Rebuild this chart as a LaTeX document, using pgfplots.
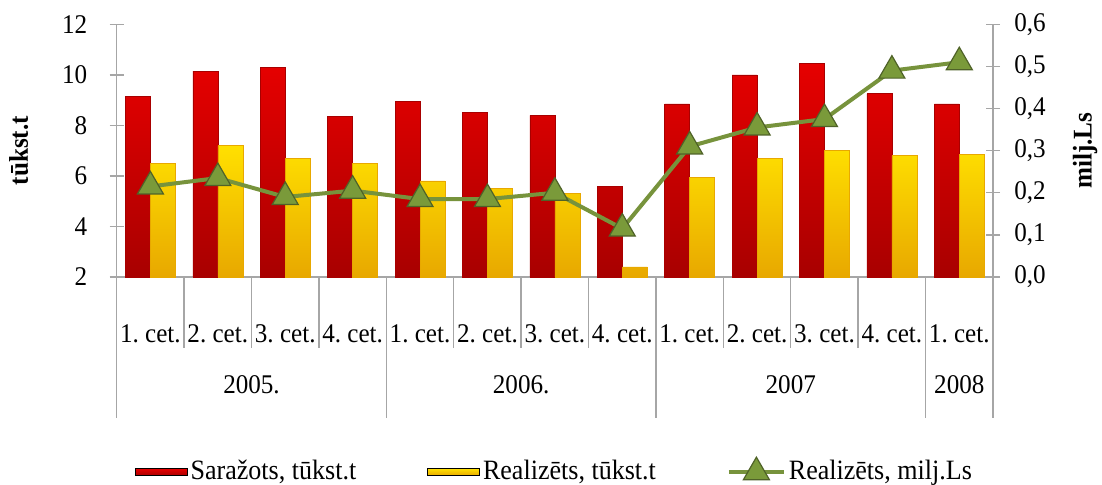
\documentclass[border=0pt]{standalone}
\usepackage{fontspec}
\setmainfont{Liberation Serif}[FakeStretch=0.93]
\usepackage{pgfplots}
\pgfplotsset{compat=1.18}
\definecolor{axgray}{HTML}{A6A6A6}
\definecolor{redtop}{HTML}{E60000}
\definecolor{redbot}{HTML}{A80000}
\definecolor{yeltop}{HTML}{FFE000}
\definecolor{yelbot}{HTML}{E8A800}
\definecolor{linegreen}{HTML}{77933C}
\definecolor{markgreen}{HTML}{7A9A3A}
\definecolor{markdark}{HTML}{4F6228}
\pgfplotstableread{
x red yel
0 9.15 6.5
1 10.15 7.2
2 10.3 6.7
3 8.35 6.5
4 8.95 5.8
5 8.5 5.5
6 8.4 5.3
7 5.6 2.4
8 8.85 5.95
9 10.0 6.7
10 10.45 7.0
11 9.25 6.8
12 8.85 6.85
}\bars
\pgfplotstableread{
x val
0 0.215
1 0.235
2 0.19
3 0.205
4 0.185
5 0.185
6 0.2
7 0.115
8 0.31
9 0.355
10 0.375
11 0.49
12 0.51
}\ls
\pgfplotsset{
  common/.style={scale only axis, width=438.15pt, height=126.35pt,
    at={(58.35pt,104pt)}, anchor=south west, xmin=-0.5, xmax=12.5, clip=false,
    /pgf/number format/assume math mode=true,
    tick label style={font=\fontsize{13.5}{16}\selectfont},
    axis line style={axgray, line width=0.7pt},
    tick style={axgray, line width=0.7pt},
    major tick length=7pt, tick align=center},
  barleg/.style={legend image code/.code={\fill[#1] (0pt,-1.8pt) rectangle (26pt,1.8pt);}},
  lineleg/.style={legend image code/.code={\draw[mark repeat=2,mark phase=2,#1] plot coordinates {(0pt,0pt) (13.75pt,0pt) (27.5pt,0pt)};}},
}
\begin{document}
\frenchspacing
\fontsize{13.5}{16}\selectfont
\begin{tikzpicture}
\useasboundingbox (0,0) rectangle (551pt,242.5pt);
\begin{axis}[common, axis x line*=bottom, axis y line*=left,
  ymin=2, ymax=12, ytick={2,4,6,8,10,12},
  xtick={0,...,12},
  xticklabels={1. cet.,2. cet.,3. cet.,4. cet.,1. cet.,2. cet.,3. cet.,4. cet.,1. cet.,2. cet.,3. cet.,4. cet.,1. cet.},
  x tick style={draw=none},
  xticklabel style={anchor=center, yshift=-21.5pt},
  yticklabel style={xshift=-6.5pt},
  ylabel={\bfseries tūkst.t},
  ylabel style={at={(axis description cs:-0.1118,0.5)}, anchor=center},
  ybar=0pt, bar width=12.5pt]
\addplot[draw=redbot, line width=0.3pt, top color=redtop, bottom color=redbot] table[x=x,y=red] {\bars};
\addplot[draw=yelbot, line width=0.3pt, top color=yeltop, bottom color=yelbot] table[x=x,y=yel] {\bars};
\pgfplotsinvokeforeach{-0.5,0.5,1.5,2.5,3.5,4.5,5.5,6.5,7.5,8.5,9.5,10.5,11.5,12.5}{
  \draw[axgray, line width=0.7pt] (axis cs:#1,2) -- ++(0pt,-35.5pt);}
\pgfplotsinvokeforeach{-0.5,3.5,7.5,11.5,12.5}{
  \draw[axgray, line width=0.7pt] (axis cs:#1,2) -- ++(0pt,-70.5pt);}
\node at (axis cs:1.5,2) [yshift=-54pt] {2005.};
\node at (axis cs:5.5,2) [yshift=-54pt] {2006.};
\node at (axis cs:9.5,2) [yshift=-54pt] {2007};
\node at (axis cs:12,2) [yshift=-54pt] {2008};
\end{axis}
\begin{axis}[common, axis y line*=right, axis x line=none,
  ymin=0, ymax=0.6, ytick={0,0.1,0.2,0.3,0.4,0.5,0.6},
  yticklabel style={xshift=2.5pt, /pgf/number format/.cd, fixed, fixed zerofill, precision=1, use comma},
  ylabel={\bfseries milj.Ls},
  ylabel style={at={(axis description cs:1.105,0.5)}, anchor=center},
  legend columns=3,
  legend style={at={(axis description cs:0.5,-0.772)}, anchor=center, draw=none,
    font=\fontsize{14}{16}\selectfont, nodes={inner sep=1.5pt},
    /tikz/every even column/.append style={column sep=34pt}},
  legend cell align=left]
\addlegendimage{barleg, top color=redtop, bottom color=redbot}
\addlegendentry{Saražots, tūkst.t}
\addlegendimage{barleg, top color=yeltop, bottom color=yelbot}
\addlegendentry{Realizēts, tūkst.t}
\addplot[color=linegreen, line width=2pt, mark=triangle*, mark size=7.5pt,
  mark options={fill=markgreen, draw=markdark, line width=0.6pt}, lineleg]
  table[x=x,y=val] {\ls};
\addlegendentry{Realizēts, milj.Ls}
\end{axis}
\end{tikzpicture}
\end{document}
